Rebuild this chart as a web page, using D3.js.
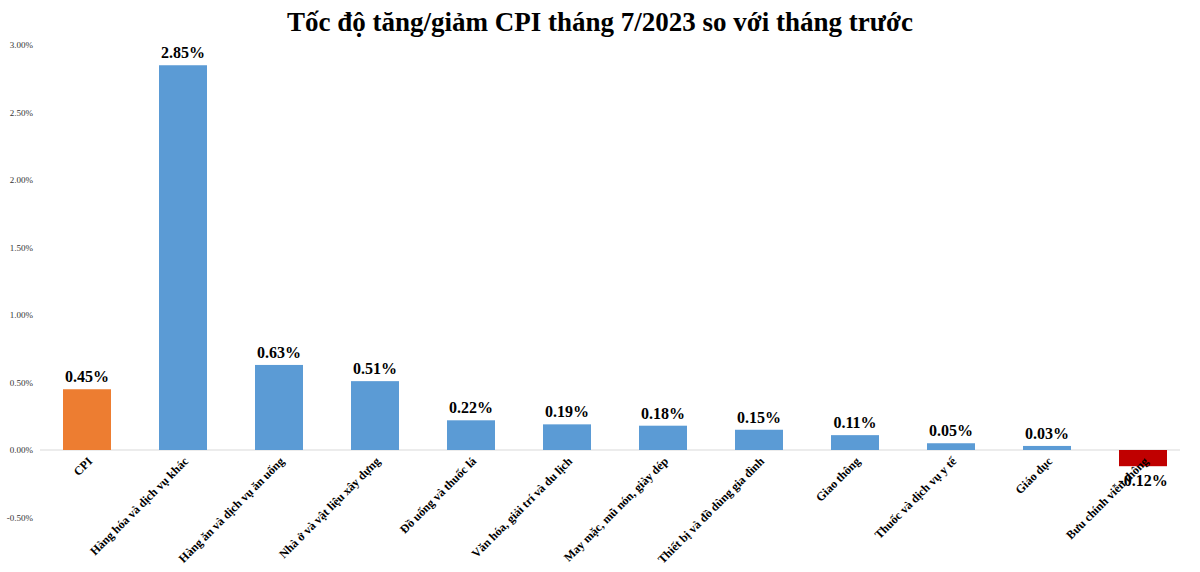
<!DOCTYPE html>
<html><head><meta charset="utf-8">
<script src="https://cdn.jsdelivr.net/npm/d3@7"></script>
<style>body{margin:0;background:#fff}svg{font-family:"Liberation Serif","Times New Roman",serif}</style>
</head><body><svg id="c" width="1200" height="572"></svg>
<script>
const categories = ["CPI","Hàng hóa và dịch vụ khác","Hàng ăn và dịch vụ ăn uống","Nhà ở và vật liệu xây dựng","Đồ uống và thuốc lá","Văn hóa, giải trí và du lịch","May mặc, mũ nón, giày dép","Thiết bị và đồ dùng gia đình","Giao thông","Thuốc và dịch vụ y tế","Giáo dục","Bưu chính viễn thông"];
const values = [0.45,2.85,0.63,0.51,0.22,0.19,0.18,0.15,0.11,0.05,0.03,-0.12];
const yTicks = [-0.5,0,0.5,1,1.5,2,2.5,3];
const title = "Tốc độ tăng/giảm CPI tháng 7/2023 so với tháng trước";

const svg = d3.select("#c");
const x = d3.scaleBand().domain(categories).range([39,1191]).paddingInner(0.5).paddingOuter(0.25);
const y = d3.scaleLinear().domain([-0.5,3]).range([517.5,45]);

svg.append("text").attr("x",600).attr("y",31).attr("text-anchor","middle")
  .attr("font-size",27).attr("font-weight","bold").text(title);

const ya = svg.append("g").attr("transform","translate(36,0)")
  .call(d3.axisLeft(y).tickValues(yTicks).tickFormat(d=>d.toFixed(2)+"%").tickSize(0));
ya.select(".domain").remove();
ya.selectAll("text").attr("font-size",9).attr("font-family","Liberation Serif").attr("fill","#333");

svg.append("line").attr("x1",40).attr("x2",1180).attr("y1",y(0)).attr("y2",y(0)).attr("stroke","#d9d9d9");

svg.selectAll("rect.b").data(values).join("rect")
  .attr("x",(d,i)=>x(categories[i])).attr("width",x.bandwidth())
  .attr("y",d=>y(Math.max(0,d))).attr("height",d=>Math.abs(y(d)-y(0)))
  .attr("fill",(d,i)=>i===0?"#ed7d31":d<0?"#c00000":"#5b9bd5");

svg.selectAll("text.xl").data(categories).join("text")
  .attr("transform",d=>`translate(${x(d)+x.bandwidth()/2+6},${y(0)+12}) rotate(-45)`)
  .attr("text-anchor","end").attr("font-size",12).attr("font-weight","bold").text(d=>d);

svg.selectAll("text.v").data(values).join("text")
  .attr("x",(d,i)=>x(categories[i])+x.bandwidth()/2)
  .attr("y",d=>d>=0?y(d)-7:y(d)+20)
  .attr("text-anchor","middle").attr("font-size",16).attr("font-weight","bold")
  .text(d=>d.toFixed(2)+"%");
</script></body></html>
